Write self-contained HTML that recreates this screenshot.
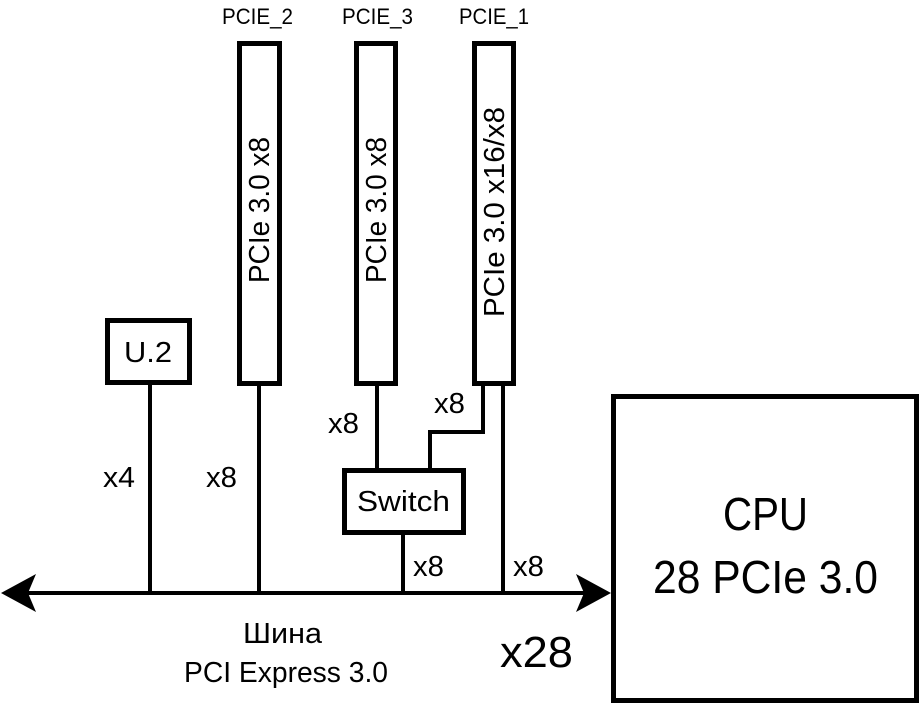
<!DOCTYPE html>
<html><head><meta charset="utf-8"><style>
html,body{margin:0;padding:0;background:#fff;}
svg{display:block;}
text{font-family:"Liberation Sans",sans-serif;fill:#000;}
</style></head><body>
<svg width="924" height="705" viewBox="0 0 924 705" xmlns="http://www.w3.org/2000/svg">
<g fill="none" stroke="#000" stroke-width="5">
<rect x="239.5" y="43.5" width="40" height="340"/>
<rect x="356.5" y="43.5" width="39" height="340"/>
<rect x="474.5" y="43.5" width="39" height="340"/>
<rect x="107.5" y="320.5" width="82" height="62"/>
<rect x="344.5" y="470.5" width="119" height="62"/>
<rect x="613.5" y="396.5" width="303" height="304"/>
</g>
<g stroke="#000" stroke-width="4" fill="none">
<line x1="150" y1="383" x2="150" y2="593"/>
<line x1="259" y1="383" x2="259" y2="593"/>
<line x1="377" y1="383" x2="377" y2="470"/>
<line x1="403" y1="533" x2="403" y2="593"/>
<line x1="503" y1="383" x2="503" y2="593"/>
<polyline points="483,383 483,432 430,432 430,470"/>
<line x1="25" y1="593" x2="590" y2="593"/>
</g>
<path d="M1,593 L36,574 L28,593 L36,612 Z" fill="#000"/>
<path d="M611,593 L576,574 L584,593 L576,612 Z" fill="#000"/>
<g font-size="22" lengthAdjust="spacingAndGlyphs">
<text x="222" y="24" textLength="71" lengthAdjust="spacingAndGlyphs">PCIE_2</text>
<text x="342" y="24" textLength="71" lengthAdjust="spacingAndGlyphs">PCIE_3</text>
<text x="459" y="24" textLength="70" lengthAdjust="spacingAndGlyphs">PCIE_1</text>
</g>
<g font-size="29" text-anchor="middle">
<text transform="translate(269,210) rotate(-90)" textLength="146" lengthAdjust="spacingAndGlyphs">PCIe 3.0 x8</text>
<text transform="translate(386,210) rotate(-90)" textLength="146" lengthAdjust="spacingAndGlyphs">PCIe 3.0 x8</text>
<text transform="translate(504,212) rotate(-90)" textLength="210" lengthAdjust="spacingAndGlyphs">PCIe 3.0 x16/x8</text>
</g>
<g font-size="29">
<text x="124" y="362" textLength="48" lengthAdjust="spacingAndGlyphs">U.2</text>
<text x="357" y="511" textLength="93" lengthAdjust="spacingAndGlyphs">Switch</text>
<text x="243" y="643" textLength="79" lengthAdjust="spacingAndGlyphs">Шина</text>
<text x="184" y="682" textLength="204" lengthAdjust="spacingAndGlyphs">PCI Express 3.0</text>
<text x="103" y="487" textLength="32" lengthAdjust="spacingAndGlyphs">x4</text>
<text x="206" y="487" textLength="31" lengthAdjust="spacingAndGlyphs">x8</text>
<text x="328" y="433" textLength="31" lengthAdjust="spacingAndGlyphs">x8</text>
<text x="434" y="413" textLength="31" lengthAdjust="spacingAndGlyphs">x8</text>
<text x="413" y="576" textLength="31" lengthAdjust="spacingAndGlyphs">x8</text>
<text x="513" y="576" textLength="31" lengthAdjust="spacingAndGlyphs">x8</text>
</g>
<text x="500" y="667" font-size="44" textLength="73" lengthAdjust="spacingAndGlyphs">x28</text>
<g font-size="46">
<text x="723" y="530" textLength="85" lengthAdjust="spacingAndGlyphs">CPU</text>
<text x="653" y="593" textLength="225" lengthAdjust="spacingAndGlyphs">28 PCIe 3.0</text>
</g>
</svg>
</body></html>
